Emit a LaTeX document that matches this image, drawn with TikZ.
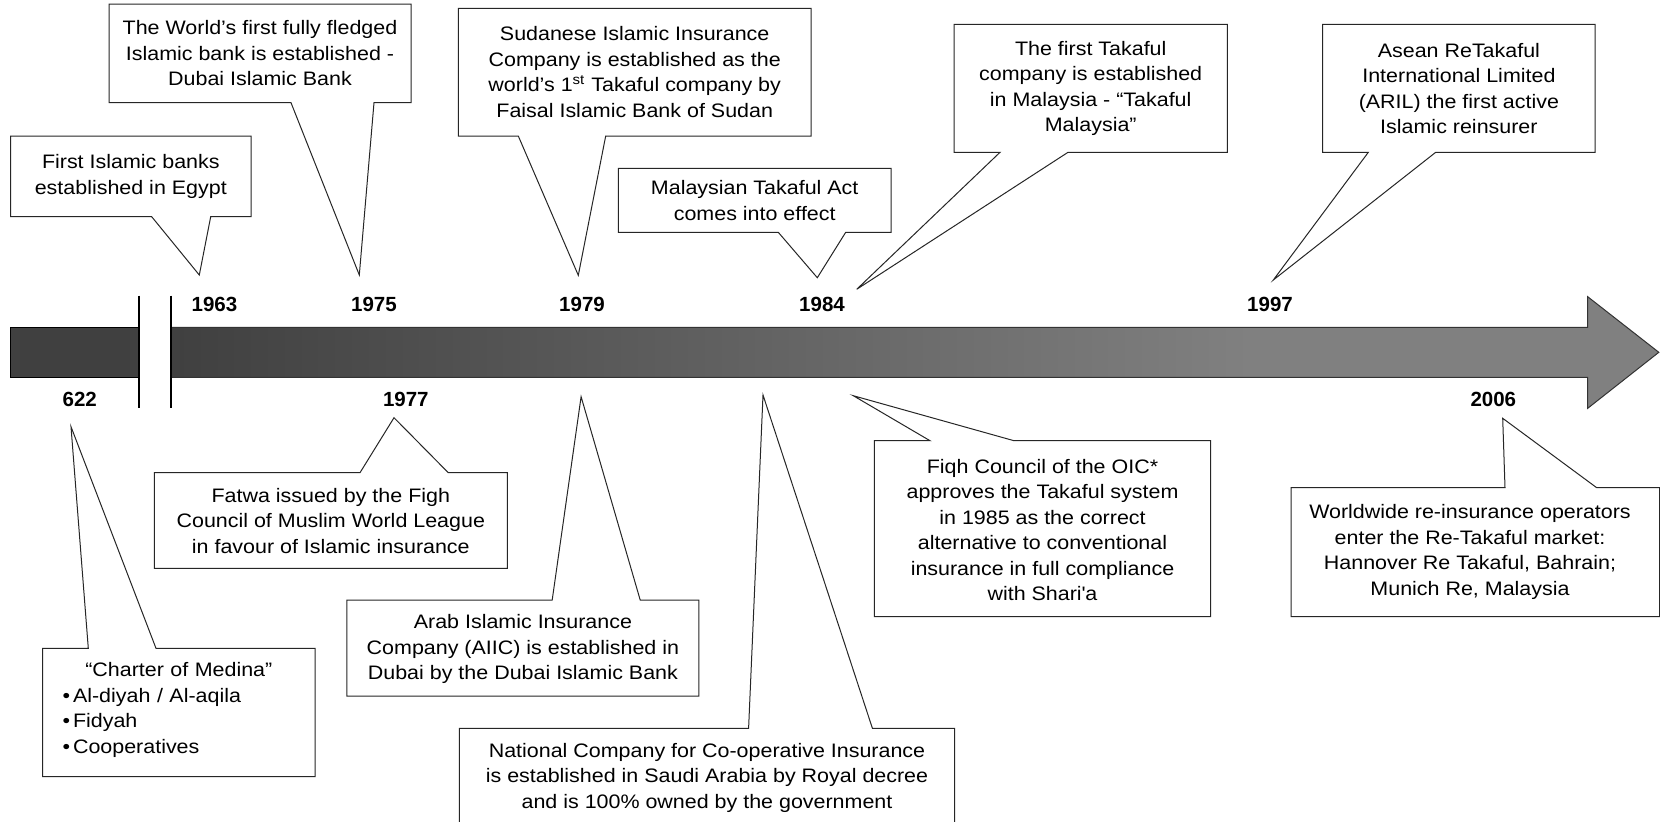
\documentclass[tikz,border=0pt]{standalone}
\usepackage{fontspec}
\setmainfont{Liberation Sans}
\newfontfamily\cfont{Liberation Sans}[FakeStretch=1.1]
\definecolor{bardark}{gray}{0.25}
\definecolor{barlight}{gray}{0.5}
\pgfdeclarehorizontalshading{barshade}{100bp}{color(0bp)=(bardark); color(25bp)=(bardark); color(61bp)=(barlight); color(100bp)=(barlight)}
\tikzset{
  callout/.style={draw=black!85, fill=white, line width=0.5pt, line join=miter},
  txt/.style={font=\cfont\fontsize{9.75}{12.75}\selectfont, align=center, inner sep=0pt, text=black},
  yr/.style={font=\fontsize{10.25}{12}\selectfont\bfseries, inner sep=0pt, text=black},
}
% #1 tip name, #2 L, #3 R, #4 T, #5 B, #6 base1, #7 base2, #8 tip x, #9 tip y
\newcommand\CallDown[9]{\coordinate (#1) at (#8,#9);
  \draw[callout] (#2,#4) -- (#3,#4) -- (#3,#5) -- (#7,#5) -- (#1) -- (#6,#5) -- (#2,#5) -- cycle;}
\newcommand\CallUp[9]{\coordinate (#1) at (#8,#9);
  \draw[callout] (#2,#5) -- (#3,#5) -- (#3,#4) -- (#7,#4) -- (#1) -- (#6,#4) -- (#2,#4) -- cycle;}
\begin{document}
\begin{tikzpicture}[x=0.5pt,y=-0.5pt]
\useasboundingbox (0,0) rectangle (1660,821);

% timeline bar
\filldraw[fill=bardark, draw=black, line width=0.5pt] (10.7,327.3) rectangle (139,377.3);
\shadedraw[shading=barshade, draw=black!80, line width=0.5pt]
  (171,327.3) -- (1587.7,327.3) -- (1587.7,296.7) -- (1658.8,352.3)
  -- (1587.7,408.3) -- (1587.7,377.3) -- (171,377.3) -- cycle;
\draw[line width=0.9pt] (139,295.7) -- (139,408.3);
\draw[line width=0.9pt] (171,295.7) -- (171,408.3);

% years
\node[yr] (y1963) at (214.5,304) {1963};
\node[yr] (y1975) at (374,304) {1975};
\node[yr] (y1979) at (582,304) {1979};
\node[yr] (y1984) at (822,304) {1984};
\node[yr] (y1997) at (1270,304) {1997};
\node[yr] (y622) at (79.8,399) {622};
\node[yr] (y1977) at (405.8,399) {1977};
\node[yr] (y2006) at (1493.3,399) {2006};

% callouts above
\CallDown{egyptTip}{10.7}{251}{136}{216.7}{151.7}{210.7}{199.3}{275}
\node[txt] (egypt) at (130.8,176.3) {First Islamic banks\\established in Egypt};

\CallDown{dibTip}{109}{411}{4.2}{102.7}{291}{374}{359.3}{275}
\node[txt] (dib) at (260,53.5) {The World’s first fully fledged\\Islamic bank is established -\\Dubai Islamic Bank};

\CallDown{sudanTip}{458.3}{811}{8.3}{136}{518.3}{605.7}{578.3}{275.3}
\node[txt] (sudan) at (634.7,72.2) {Sudanese Islamic Insurance\\Company is established as the\\world’s 1\textsuperscript{st} Takaful company by\\Faisal Islamic Bank of Sudan};

\CallDown{actTip}{618.3}{891}{168.3}{232.3}{778.3}{845.7}{817.3}{277.7}
\node[txt] (act) at (754.7,200.3) {Malaysian Takaful Act\\comes into effect};

\CallDown{tmTip}{954}{1227.3}{24.3}{152.3}{1000}{1068}{856.7}{289.3}
\node[txt] (tm) at (1090.7,88.3) {The first Takaful\\company is established\\in Malaysia - “Takaful\\Malaysia”};

\CallDown{arilTip}{1322.7}{1595}{24.3}{152.3}{1368.3}{1435.7}{1273.3}{280}
\node[txt] (aril) at (1458.9,88.3) {Asean ReTakaful\\International Limited\\(ARIL) the first active\\Islamic reinsurer};

% callouts below
\CallUp{medTip}{42.7}{315}{648.3}{776.7}{88.3}{156}{71}{426.7}
\node[txt, text width=136.15pt, align=left] (medina) at (178.8,710) {\centering “Charter of Medina”\par
  \raggedright\leftskip=10pt
  \makebox[5.2pt][l]{•}Al-diyah / Al-aqila\par
  \makebox[5.2pt][l]{•}Fidyah\par
  \makebox[5.2pt][l]{•}Cooperatives\par};

\CallUp{fatwaTip}{154.3}{507.3}{472.7}{568.3}{360}{448.3}{394}{417.7}
\node[txt] (fatwa) at (330.8,521) {Fatwa issued by the Figh\\Council of Muslim World League\\in favour of Islamic insurance};

\CallUp{aiicTip}{346.9}{698.8}{600}{696}{552.2}{640.2}{581.1}{396.7}
\node[txt] (aiic) at (522.9,649) {Arab Islamic Insurance\\Company (AIIC) is established in\\Dubai by the Dubai Islamic Bank};

\CallUp{nciTip}{459.4}{954.7}{728.3}{823}{748.6}{872.4}{763}{395}
\node[txt] (nci) at (707,777.5) {National Company for Co-operative Insurance\\is established in Saudi Arabia by Royal decree\\and is 100\% owned by the government};

\CallUp{oicTip}{874.3}{1210.7}{440.7}{616.7}{930}{1014}{853.3}{395.7}
\node[txt] (oic) at (1042.5,530) {Fiqh Council of the OIC*\\approves the Takaful system\\in 1985 as the correct\\alternative to conventional\\insurance in full compliance\\with Shari\textquotesingle a};

\CallUp{reTip}{1291}{1659.5}{487.7}{616.7}{1505}{1596.7}{1502.7}{418.3}
\node[txt] (re) at (1470,552) {Worldwide re-insurance operators\\enter the Re-Takaful market:\\Hannover Re Takaful, Bahrain;\\Munich Re, Malaysia};
\end{tikzpicture}
\end{document}
